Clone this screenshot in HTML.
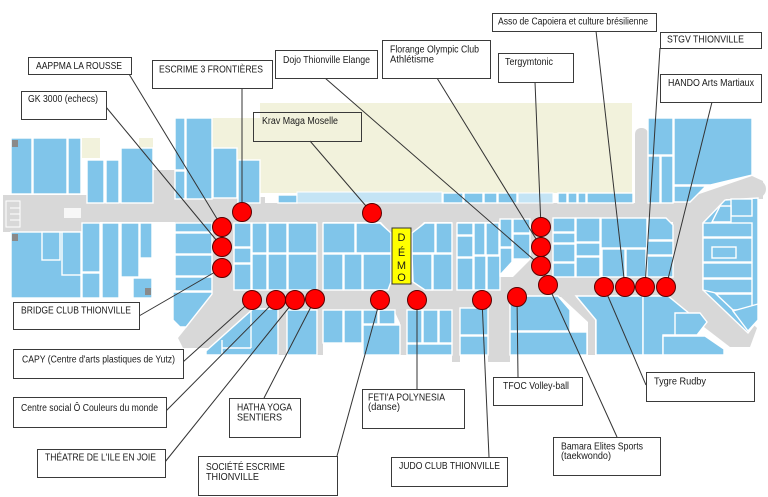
<!DOCTYPE html>
<html><head><meta charset="utf-8"><style>
html,body{margin:0;padding:0;background:#fff;}
svg{display:block;}
.b{fill:#80c5ea;stroke:#fff;stroke-width:1.4;}
.l{fill:#c4e4f5;stroke:#fff;stroke-width:1;}
.g{fill:#d8d8d8;}
.bx{fill:#fff;stroke:#3a3a3a;stroke-width:1;}
.ln{stroke:#333;stroke-width:1;fill:none;}
.d{fill:#ff0000;stroke:#5a0000;stroke-width:1;}
text{font-family:"Liberation Sans",Arial,sans-serif;font-size:10px;fill:#1a1a1a;}
</style></head><body>
<svg width="768" height="497" viewBox="0 0 768 497" xmlns="http://www.w3.org/2000/svg">
<rect width="768" height="497" fill="#fff"/>
<!-- beige -->
<polygon points="260,103 632,103 632,193 212,193 212,118 260,118" fill="#f2f2dc"/>
<rect x="82" y="138" width="18" height="20" fill="#f2f2dc"/>
<rect x="139" y="138" width="14" height="10" fill="#f2f2dc"/>
<!-- corridors -->
<g class="g">
<rect x="3" y="195" width="90" height="37"/>
<polygon points="90,195 100,203 100,223 90,232"/>
<rect x="95" y="203" width="608" height="19"/>
<rect x="153" y="170" width="22" height="40"/>
<rect x="175" y="197" width="90" height="26"/>
<rect x="212" y="203" width="22" height="92"/>
<rect x="212" y="290" width="295" height="20"/>
<polygon points="213,286 240,286 256,308 215,348 183,348 178,338 186,328 212,295"/>
<polygon points="380,221 425,221 413,233 391,233"/>
<polygon points="390,282 413,282 425,291 378,291"/>
<rect x="317" y="220" width="6" height="72"/>
<rect x="452" y="220" width="5" height="72"/>
<rect x="530" y="212" width="24" height="88"/>
<polygon points="500,290 530,260 553,262 553,300 500,312"/>
<rect x="500" y="277" width="203" height="20"/>
<rect x="673" y="203" width="30" height="94"/>
<polygon points="673,203 752,176 763,181 763,199 726,199 703,222"/>
<circle cx="757" cy="189" r="9"/>
<polygon points="665,277 703,277 757,328 750,347 730,347 665,297"/>
<rect x="635" y="128" width="13" height="80" rx="6"/>
<rect x="278" y="305" width="9" height="50"/>
<rect x="317" y="305" width="6" height="50"/>
<polygon points="393,308 425,308 407,323 407,355 400,355 400,323"/>
<rect x="452" y="290" width="8" height="72"/>
<rect x="488" y="290" width="22" height="72"/>
<polygon points="560,296 575,296 595,320 595,355 588,355 588,322"/>
</g>
<!-- entrance details -->
<rect x="6" y="201" width="14" height="26" fill="none" stroke="#fff" stroke-width="1"/>
<line x1="10" y1="208" x2="20" y2="208" stroke="#fff"/><line x1="10" y1="214" x2="20" y2="214" stroke="#fff"/><line x1="10" y1="220" x2="20" y2="220" stroke="#fff"/>
<rect x="64" y="208" width="17" height="10" fill="#fff" opacity="0.8"/>
<!-- left wing shops -->
<rect class="b" x="11" y="138" width="21" height="56"/>
<rect class="b" x="33" y="138" width="34" height="56"/>
<rect class="b" x="68" y="138" width="13" height="56"/>
<rect class="b" x="87" y="160" width="17" height="43"/>
<rect class="b" x="106" y="160" width="13" height="43"/>
<rect class="b" x="121" y="148" width="32" height="55"/>
<rect class="b" x="11" y="232" width="70" height="66"/>
<rect class="b" x="42" y="232" width="18" height="28"/>
<rect class="b" x="62" y="232" width="19" height="43"/>
<rect class="b" x="82" y="223" width="18" height="49"/>
<rect class="b" x="82" y="273" width="18" height="25"/>
<rect class="b" x="102" y="223" width="17" height="75"/>
<rect class="b" x="121" y="223" width="18" height="54"/>
<rect class="b" x="140" y="223" width="12" height="35"/>
<rect class="b" x="133" y="278" width="19" height="20"/>
<rect x="12" y="140" width="6" height="7" fill="#8a8a8a"/>
<rect x="12" y="234" width="6" height="7" fill="#8a8a8a"/>
<rect x="145" y="288" width="6" height="7" fill="#8a8a8a"/>
<!-- center column -->
<rect class="b" x="175" y="118" width="10" height="52"/>
<rect class="b" x="175" y="171" width="10" height="28"/>
<rect class="b" x="186" y="118" width="26" height="81"/>
<rect class="b" x="213" y="148" width="24" height="50"/>
<rect class="b" x="238" y="160" width="22" height="43"/>
<rect class="b" x="175" y="223" width="37" height="9"/>
<rect class="b" x="175" y="233" width="37" height="21"/>
<rect class="b" x="175" y="255" width="37" height="21"/>
<rect class="b" x="175" y="277" width="37" height="14"/>
<polygon class="b" points="173,292 212,292 212,294 186,327 180,327 173,320"/>
<!-- top strip -->
<rect class="b" x="278" y="195" width="19" height="8"/>
<rect class="l" x="297" y="192" width="145" height="11"/>
<rect class="b" x="443" y="193" width="20" height="10"/>
<rect class="b" x="464" y="193" width="19" height="10"/>
<rect class="b" x="484" y="193" width="13" height="10"/>
<rect class="b" x="498" y="193" width="19" height="10"/>
<rect class="l" x="518" y="193" width="35" height="10"/>
<rect class="b" x="558" y="193" width="9" height="10"/>
<rect class="b" x="568" y="193" width="9" height="10"/>
<rect class="b" x="578" y="193" width="8" height="10"/>
<rect class="b" x="587" y="193" width="46" height="10"/>
<!-- center block -->
<rect class="b" x="234" y="223" width="17" height="24"/>
<rect class="b" x="234" y="248" width="17" height="15"/>
<rect class="b" x="234" y="264" width="17" height="26"/>
<rect class="b" x="252" y="223" width="15" height="30"/>
<rect class="b" x="252" y="254" width="15" height="36"/>
<rect class="b" x="268" y="223" width="19" height="30"/>
<rect class="b" x="268" y="254" width="19" height="36"/>
<rect class="b" x="288" y="223" width="29" height="30"/>
<rect class="b" x="288" y="254" width="29" height="36"/>
<rect class="b" x="323" y="223" width="32" height="30"/>
<rect class="b" x="323" y="254" width="20" height="36"/>
<rect class="b" x="344" y="254" width="18" height="36"/>
<polygon class="b" points="356,223 380,223 391,233 391,253 356,253"/>
<polygon class="b" points="363,254 391,254 391,282 388,290 363,290"/>
<polygon class="b" points="425,223 435,223 435,253 412,253 412,233"/>
<rect class="b" x="436" y="223" width="16" height="30"/>
<polygon class="b" points="412,254 432,254 432,290 425,290 413,282"/>
<rect class="b" x="433" y="254" width="19" height="36"/>
<rect class="b" x="457" y="223" width="16" height="12"/>
<rect class="b" x="457" y="236" width="16" height="21"/>
<rect class="b" x="457" y="258" width="16" height="32"/>
<rect class="b" x="474" y="223" width="11" height="32"/>
<rect class="b" x="474" y="256" width="12" height="34"/>
<rect class="b" x="486" y="223" width="13" height="32"/>
<rect class="b" x="487" y="256" width="13" height="34"/>
<rect class="b" x="500" y="219" width="12" height="28"/>
<rect class="b" x="513" y="219" width="17" height="14"/>
<rect class="b" x="513" y="234" width="17" height="25"/>
<polygon class="b" points="500,248 512,248 512,262 500,275"/>
<!-- center-right block -->
<rect class="b" x="553" y="218" width="22" height="14"/>
<rect class="b" x="553" y="233" width="22" height="10"/>
<rect class="b" x="553" y="244" width="22" height="18"/>
<rect class="b" x="553" y="263" width="22" height="14"/>
<rect class="b" x="576" y="218" width="24" height="24"/>
<rect class="b" x="576" y="243" width="24" height="13"/>
<rect class="b" x="576" y="257" width="24" height="20"/>
<rect class="b" x="601" y="218" width="46" height="30"/>
<rect class="b" x="602" y="249" width="23" height="28"/>
<rect class="b" x="626" y="249" width="20" height="28"/>
<polygon class="b" points="648,218 666,218 673,225 673,240 648,240"/>
<rect class="b" x="647" y="241" width="26" height="14"/>
<rect class="b" x="647" y="256" width="26" height="21"/>
<!-- right column above corridor -->
<rect class="b" x="648" y="118" width="25" height="37"/>
<rect class="b" x="648" y="156" width="12" height="47"/>
<rect class="b" x="661" y="156" width="12" height="47"/>
<polygon class="b" points="674,118 752,118 752,175 710,185 674,185"/>
<polygon class="b" points="674,186 706,186 690,202 674,202"/>
<!-- right lower block -->
<polygon class="b" points="703,223 725,200 758,198 758,320 748,333 703,290"/>
<rect class="b" x="731" y="199" width="21" height="17"/>
<polygon class="b" points="720,206 731,206 731,222 712,222"/>
<rect class="b" x="703" y="223" width="49" height="14"/>
<rect class="b" x="703" y="238" width="49" height="24"/>
<rect class="b" x="712" y="247" width="24" height="11"/>
<rect class="b" x="703" y="263" width="49" height="15"/>
<polygon class="b" points="703,279 752,279 752,293 716,293 703,290"/>
<polygon class="b" points="716,294 752,294 752,310 733,310"/>
<polygon class="b" points="733,311 758,304 758,320 748,331"/>
<!-- bottom row shops -->
<polygon class="b" points="253,309 278,309 278,355 206,355 206,351"/>
<line x1="251" y1="311" x2="251" y2="348" stroke="#fff" stroke-width="1.4"/>
<line x1="222" y1="348" x2="251" y2="348" stroke="#fff" stroke-width="1.4"/>
<line x1="222" y1="340" x2="222" y2="355" stroke="#fff" stroke-width="1.4"/>
<rect class="b" x="287" y="310" width="30" height="45"/>
<rect class="b" x="323" y="310" width="20" height="33"/>
<rect class="b" x="344" y="310" width="18" height="33"/>
<rect class="b" x="363" y="310" width="15" height="14"/>
<rect class="b" x="379" y="310" width="16" height="14"/>
<rect class="b" x="363" y="325" width="37" height="30"/>
<rect class="b" x="407" y="310" width="15" height="33"/>
<rect class="b" x="423" y="310" width="15" height="33"/>
<rect class="b" x="439" y="310" width="13" height="33"/>
<rect class="b" x="407" y="344" width="45" height="11"/>
<rect class="b" x="460" y="308" width="28" height="27"/>
<rect class="b" x="460" y="336" width="28" height="19"/>
<polygon class="b" points="510,296 558,296 570,310 570,331 510,331"/>
<rect class="b" x="510" y="332" width="77" height="23"/>
<polygon class="b" points="576,296 643,296 643,355 596,355 596,320"/>
<polygon class="b" points="643,296 668,296 690,314 690,335 663,335 663,355 643,355"/>
<polygon class="b" points="675,313 700,313 707,322 697,335 675,335"/>
<polygon class="b" points="663,336 705,336 724,349 724,355 663,355"/>
<!-- connector lines -->
<g class="ln">
<line x1="129" y1="74" x2="222" y2="227"/>
<line x1="106" y1="107" x2="222" y2="247"/>
<line x1="242" y1="88" x2="242" y2="212"/>
<line x1="139" y1="316" x2="222" y2="268"/>
<line x1="310" y1="141" x2="372" y2="213"/>
<line x1="325" y1="78" x2="541" y2="266"/>
<line x1="437" y1="78" x2="541" y2="247"/>
<line x1="535" y1="82" x2="541" y2="227"/>
<line x1="596" y1="31" x2="625" y2="287"/>
<line x1="660" y1="48" x2="645" y2="287"/>
<line x1="712" y1="102" x2="666" y2="287"/>
<line x1="183" y1="362" x2="252" y2="300"/>
<line x1="166" y1="411" x2="276" y2="300"/>
<line x1="165" y1="462" x2="295" y2="300"/>
<line x1="264" y1="398" x2="315" y2="299"/>
<line x1="337" y1="456" x2="380" y2="300"/>
<line x1="417" y1="389" x2="417" y2="300"/>
<line x1="489" y1="457" x2="482" y2="300"/>
<line x1="518" y1="377" x2="517" y2="297"/>
<line x1="617" y1="437" x2="548" y2="285"/>
<line x1="646" y1="385" x2="604" y2="287"/>
</g>
<!-- dots -->
<g class="d">
<circle cx="222" cy="227" r="9.5"/><circle cx="222" cy="247" r="9.5"/><circle cx="222" cy="268" r="9.5"/>
<circle cx="242" cy="212" r="9.5"/><circle cx="372" cy="213" r="9.5"/>
<circle cx="252" cy="300" r="9.5"/><circle cx="276" cy="300" r="9.5"/><circle cx="295" cy="300" r="9.5"/><circle cx="315" cy="299" r="9.5"/>
<circle cx="380" cy="300" r="9.5"/><circle cx="417" cy="300" r="9.5"/><circle cx="482" cy="300" r="9.5"/><circle cx="517" cy="297" r="9.5"/>
<circle cx="548" cy="285" r="9.5"/><circle cx="541" cy="227" r="9.5"/><circle cx="541" cy="247" r="9.5"/><circle cx="541" cy="266" r="9.5"/>
<circle cx="604" cy="287" r="9.5"/><circle cx="625" cy="287" r="9.5"/><circle cx="645" cy="287" r="9.5"/><circle cx="666" cy="287" r="9.5"/>
</g>
<!-- DEMO -->
<rect x="392" y="228" width="19" height="56" fill="#ffff00" stroke="#333" stroke-width="1"/>
<text x="401.5" y="241" text-anchor="middle" style="font-size:11px">D</text>
<text x="401.5" y="256" text-anchor="middle" style="font-size:11px">É</text>
<text x="401.5" y="269" text-anchor="middle" style="font-size:11px">M</text>
<text x="401.5" y="281" text-anchor="middle" style="font-size:11px">O</text>
<!-- label boxes -->
<rect class="bx" x="28.5" y="57.5" width="103" height="17"/>
<text x="36" y="69" textLength="86" lengthAdjust="spacingAndGlyphs">AAPPMA LA ROUSSE</text>
<rect class="bx" x="21.5" y="91.5" width="85" height="28"/>
<text x="28" y="102" textLength="70" lengthAdjust="spacingAndGlyphs">GK 3000 (echecs)</text>
<rect class="bx" x="152.5" y="60.5" width="120" height="28"/>
<text x="159" y="72.5" textLength="104" lengthAdjust="spacingAndGlyphs">ESCRIME 3 FRONTIÈRES</text>
<rect class="bx" x="275.5" y="50.5" width="102" height="28"/>
<text x="283" y="63" textLength="87" lengthAdjust="spacingAndGlyphs">Dojo Thionville Elange</text>
<rect class="bx" x="382.5" y="40.5" width="108" height="38"/>
<text x="390" y="52.5" textLength="89" lengthAdjust="spacingAndGlyphs">Florange Olympic Club</text>
<text x="390" y="62.5" textLength="44" lengthAdjust="spacingAndGlyphs">Athlétisme</text>
<rect x="253.5" y="112.5" width="108" height="29" fill="none" stroke="#3a3a3a" stroke-width="1"/>
<text x="262" y="124" textLength="76" lengthAdjust="spacingAndGlyphs">Krav Maga Moselle</text>
<rect class="bx" x="492.5" y="13.5" width="164" height="18"/>
<text x="498" y="24.5" textLength="150" lengthAdjust="spacingAndGlyphs">Asso de Capoiera et culture brésilienne</text>
<rect class="bx" x="660.5" y="32.5" width="101" height="16"/>
<text x="667" y="42.5" textLength="77" lengthAdjust="spacingAndGlyphs">STGV THIONVILLE</text>
<rect class="bx" x="498.5" y="53.5" width="75" height="29"/>
<text x="505" y="65" textLength="48" lengthAdjust="spacingAndGlyphs">Tergymtonic</text>
<rect class="bx" x="660.5" y="74.5" width="101" height="28"/>
<text x="668" y="86" textLength="86" lengthAdjust="spacingAndGlyphs">HANDO Arts Martiaux</text>
<rect class="bx" x="13.5" y="302.5" width="126" height="27"/>
<text x="21" y="313.3" textLength="110" lengthAdjust="spacingAndGlyphs">BRIDGE CLUB THIONVILLE</text>
<rect class="bx" x="13.5" y="349.5" width="170" height="29"/>
<text x="22" y="362.3" textLength="153" lengthAdjust="spacingAndGlyphs">CAPY (Centre d'arts plastiques de Yutz)</text>
<rect class="bx" x="13.5" y="397.5" width="153" height="30"/>
<text x="21" y="411" textLength="137" lengthAdjust="spacingAndGlyphs">Centre social Ô Couleurs du monde</text>
<rect class="bx" x="229.5" y="398.5" width="71" height="39"/>
<text x="237" y="410.7" textLength="55" lengthAdjust="spacingAndGlyphs">HATHA YOGA</text>
<text x="237" y="420.7" textLength="45" lengthAdjust="spacingAndGlyphs">SENTIERS</text>
<rect class="bx" x="37.5" y="449.5" width="128" height="28"/>
<text x="45" y="460.7" textLength="111" lengthAdjust="spacingAndGlyphs">THÉATRE DE L'ILE EN JOIE</text>
<rect class="bx" x="198.5" y="456.5" width="139" height="39"/>
<text x="206" y="470" textLength="79" lengthAdjust="spacingAndGlyphs">SOCIÉTÉ ESCRIME</text>
<text x="206" y="480" textLength="53" lengthAdjust="spacingAndGlyphs">THIONVILLE</text>
<rect class="bx" x="362.5" y="389.5" width="102" height="39"/>
<text x="368" y="400.7" textLength="77" lengthAdjust="spacingAndGlyphs">FETI'A POLYNESIA</text>
<text x="368" y="410" textLength="32" lengthAdjust="spacingAndGlyphs">(danse)</text>
<rect class="bx" x="391.5" y="457.5" width="116" height="29"/>
<text x="399" y="469" textLength="101" lengthAdjust="spacingAndGlyphs">JUDO CLUB THIONVILLE</text>
<rect class="bx" x="493.5" y="377.5" width="89" height="28"/>
<text x="503" y="389" textLength="66" lengthAdjust="spacingAndGlyphs">TFOC Volley-ball</text>
<rect class="bx" x="553.5" y="437.5" width="107" height="38"/>
<text x="561" y="449.3" textLength="82" lengthAdjust="spacingAndGlyphs">Bamara Elites Sports</text>
<text x="561" y="459" textLength="50" lengthAdjust="spacingAndGlyphs">(taekwondo)</text>
<rect class="bx" x="646.5" y="372.5" width="108" height="29"/>
<text x="654" y="384.5" textLength="52" lengthAdjust="spacingAndGlyphs">Tygre Rudby</text>
</svg>
</body></html>
